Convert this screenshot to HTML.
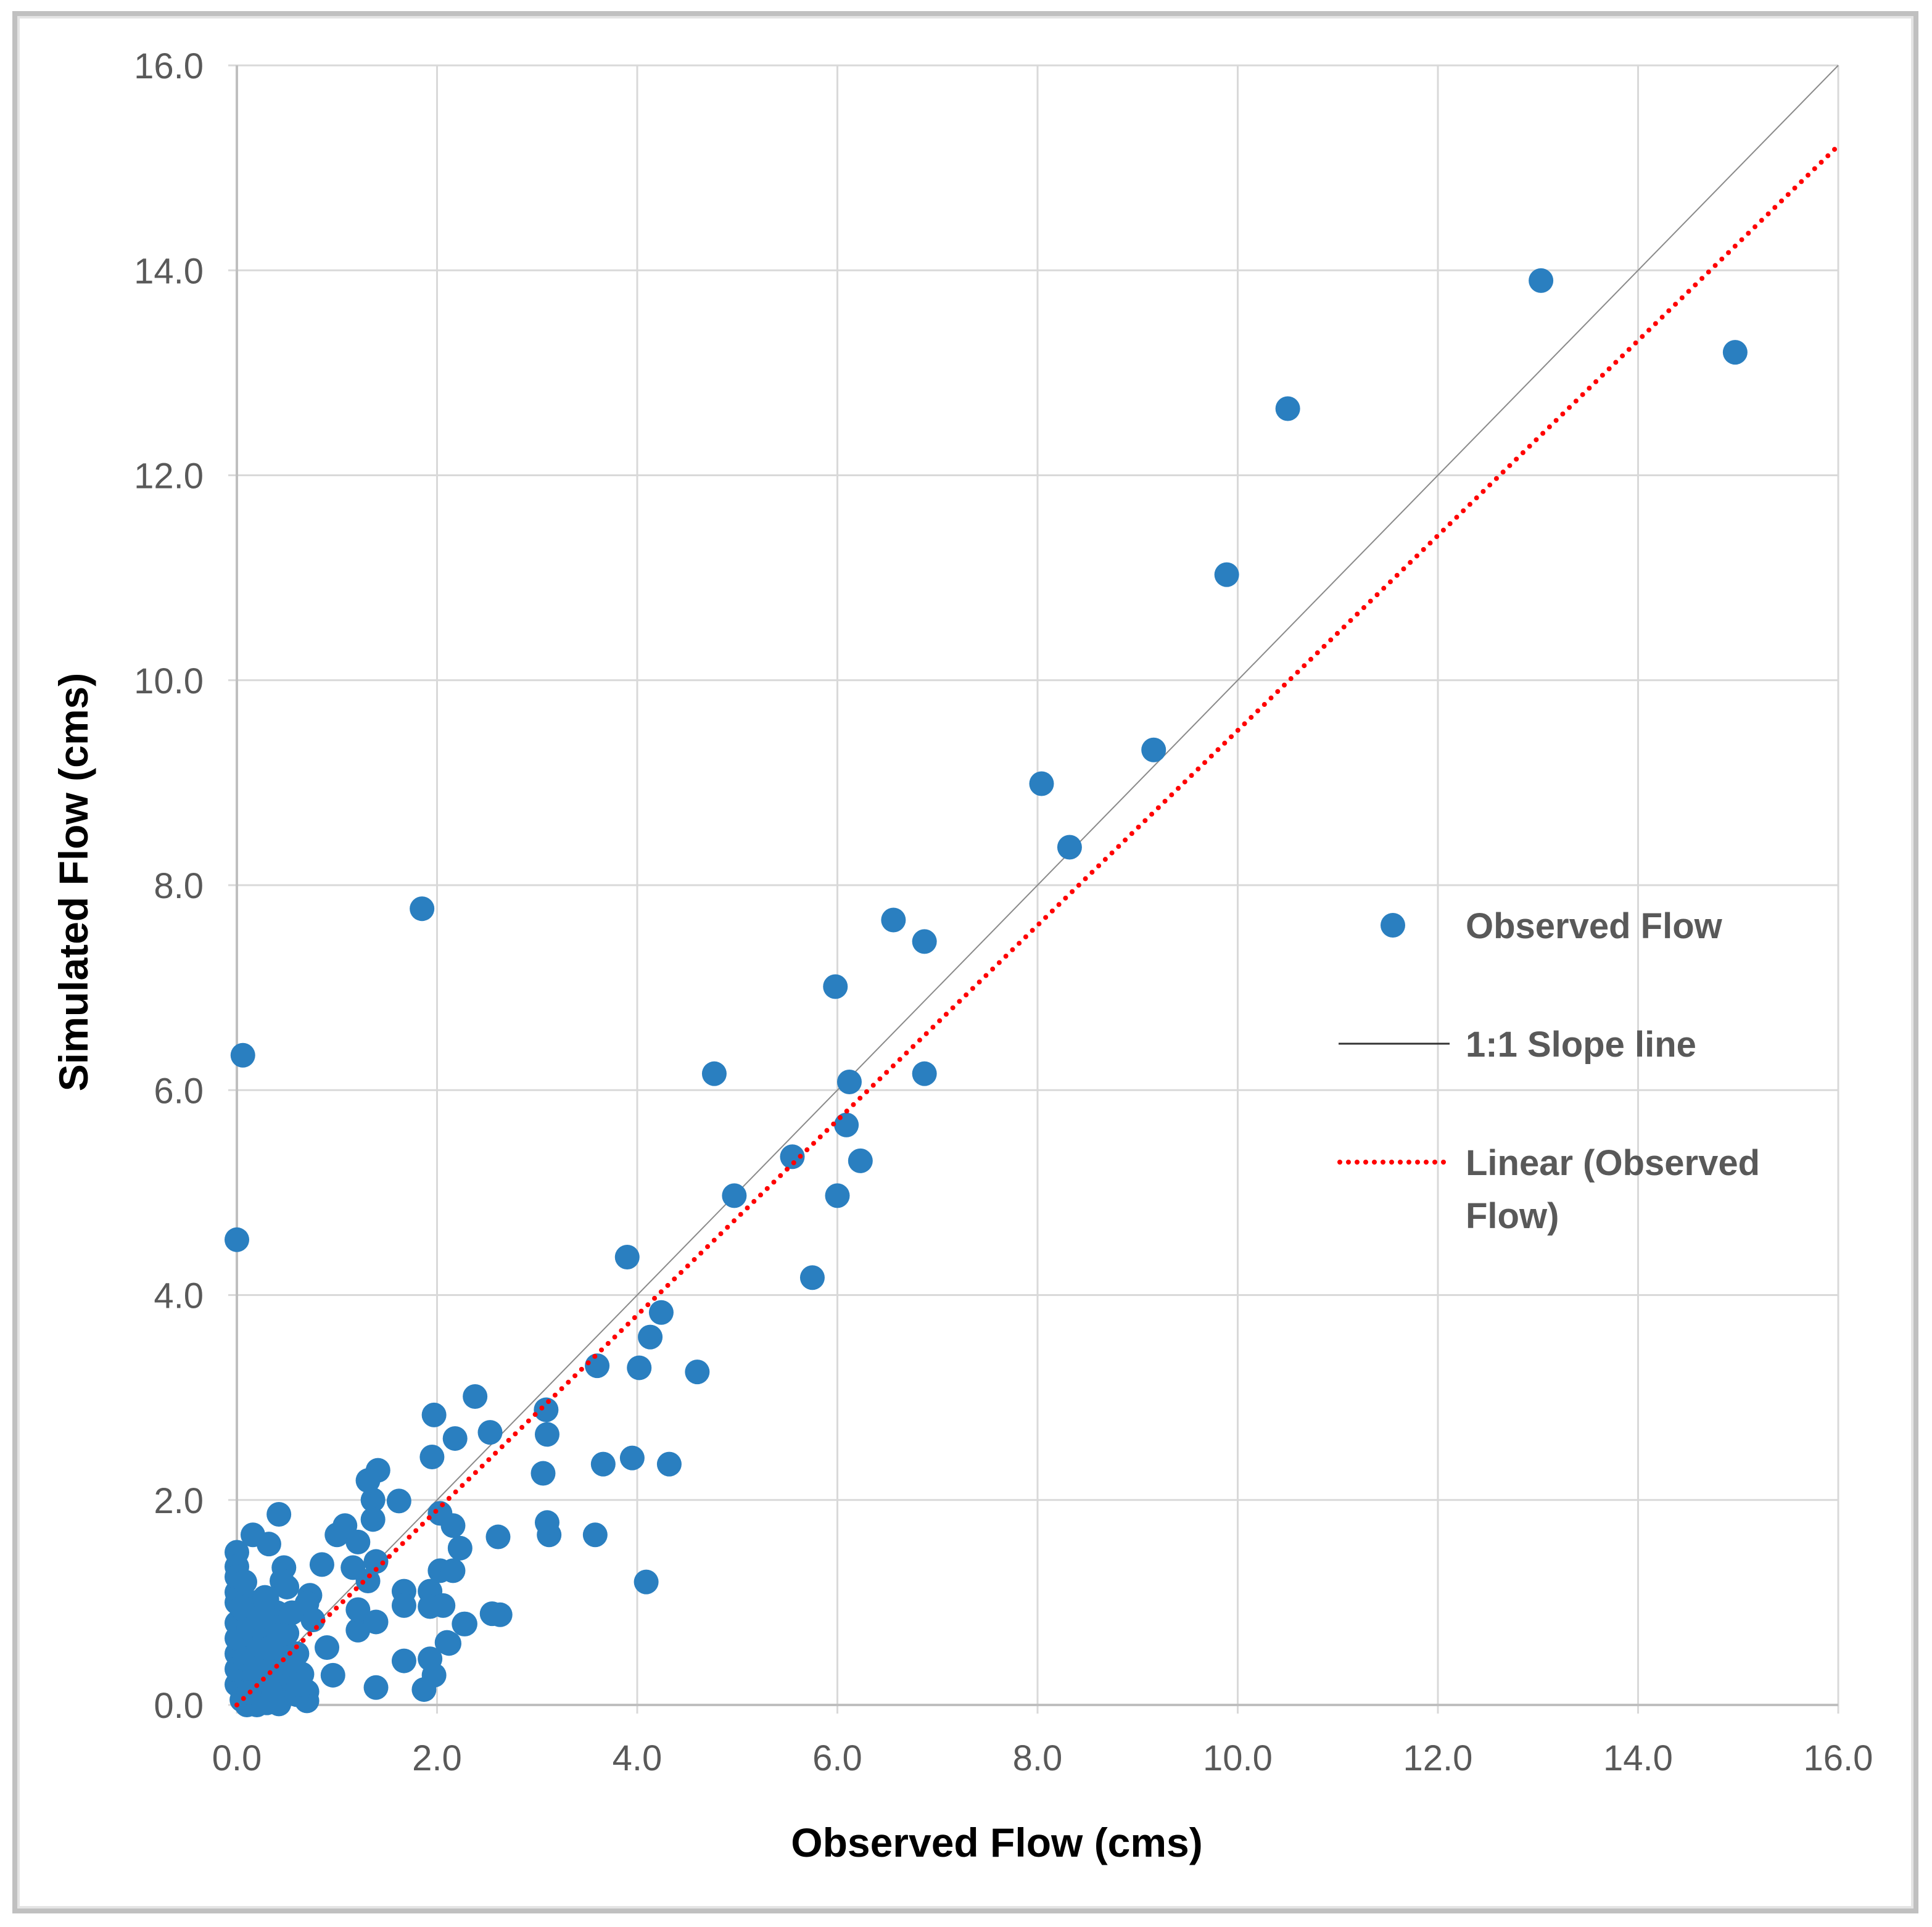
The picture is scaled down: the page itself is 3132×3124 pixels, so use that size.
<!DOCTYPE html>
<html><head><meta charset="utf-8"><style>
html,body{margin:0;padding:0;background:#fff;}
svg{display:block;font-family:"Liberation Sans",sans-serif;}
</style></head><body>
<svg id="chart" width="3132" height="3124" viewBox="0 0 3132 3124" xmlns="http://www.w3.org/2000/svg">
<rect x="24" y="22" width="3082" height="3076" fill="#fff" stroke="#c0c0c0" stroke-width="8"/>
<rect x="30" y="28" width="3070" height="3064" fill="none" stroke="#e4e4e4" stroke-width="4"/>
<g id="grid"></g>
<g id="lines"></g>
<g id="points"></g>
<g id="labels"></g>
<text x="1616" y="3010" text-anchor="middle" font-size="66" font-weight="bold" fill="#000">Observed Flow (cms)</text>
<text transform="translate(142,1430) rotate(-90)" text-anchor="middle" font-size="66" font-weight="bold" fill="#000">Simulated Flow (cms)</text>
<g>
<circle cx="2258" cy="1500" r="20" fill="#2a7fc0"/>
<text x="2376" y="1521" font-size="58" font-weight="bold" fill="#595959">Observed Flow</text>
<line x1="2170" y1="1692" x2="2350" y2="1692" stroke="#333" stroke-width="3"/>
<text x="2376" y="1713" font-size="58" font-weight="bold" fill="#595959">1:1 Slope line</text>
<line x1="2172" y1="1884" x2="2350" y2="1884" stroke="#ff0000" stroke-width="8" stroke-linecap="round" stroke-dasharray="0 14"/>
<text x="2376" y="1905" font-size="58" font-weight="bold" fill="#595959">Linear (Observed</text>
<text x="2376" y="1991" font-size="58" font-weight="bold" fill="#595959">Flow)</text>
</g>
</svg>
<script>
const ticks = [0,2,4,6,8,10,12,14,16];
const tickLabels = ["0.0","2.0","4.0","6.0","8.0","10.0","12.0","14.0","16.0"];
const obsX = [13.03,14.97,10.5,9.89,9.16,8.04,8.32,6.56,6.87,5.98,6.87,4.77,6.12,6.09,5.55,6.23,4.97,6.0,5.75,3.9,4.24,4.13,3.6,4.02,4.6,3.09,2.38,1.97,3.1,2.53,2.18,1.95,3.66,3.95,4.32,3.06,1.85,0.06,0.0,4.09,3.58,3.12,3.1,2.61,2.63,2.55,2.27,2.12,
1.41,1.31,1.36,1.62,1.36,0.42,0.16,0.32,0.0,0.0,0.47,0.45,1.08,1.0,1.21,0.85,1.16,1.39,0.73,1.31,1.67,1.67,1.93,2.03,2.16,2.16,2.03,2.23,1.93,2.06,2.28,2.1,1.93,1.67,1.97,1.87,1.39,0.96,0.9,1.21,1.39,1.21,0.7,0.76,0.7,0.7,0.42,0.3,
0.0,0.0,0.0,0.0,0.0,0.05,0.1,0.1,0.15,0.15,0.2,0.2,0.25,0.25,0.3,0.3,0.35,0.35,0.4,0.4,0.45,0.45,0.5,0.5,0.55,0.6,0.65,0.6,0.05,0.1,0.2,0.3,0.0,0.1,0.2,0.3,0.4,0.15,0.25,0.5,0.55,0.0,
0.08,0.12,0.18,0.22,0.28,0.33,0.38,0.05,0.12,0.22,0.32,0.42,0.52,0.62,0.0,0.08,0.18,0.28];
const obsY = [13.9,13.2,12.65,11.03,9.32,8.99,8.37,7.66,7.45,7.01,6.16,6.16,6.08,5.66,5.35,5.31,4.97,4.97,4.17,4.37,3.83,3.59,3.31,3.29,3.25,2.88,3.01,2.83,2.64,2.66,2.6,2.42,2.35,2.41,2.35,2.26,7.77,6.34,4.54,1.2,1.66,1.66,1.78,1.64,0.88,0.89,0.79,0.6,
2.29,2.19,2.0,1.99,1.81,1.86,1.66,1.57,1.49,1.35,1.34,1.21,1.75,1.66,1.59,1.37,1.34,1.4,1.07,1.21,1.11,0.97,1.11,1.31,1.31,1.75,1.87,1.53,0.96,0.97,0.79,0.61,0.45,0.43,0.29,0.15,0.17,0.29,0.56,0.73,0.81,0.93,0.99,0.83,0.13,0.04,0.01,1.03,
0.2,0.5,0.8,1.0,1.1,0.3,0.6,0.9,0.1,0.4,0.7,1.0,0.2,0.5,0.8,0.35,0.05,0.6,0.3,0.9,0.5,0.15,0.7,0.35,0.2,0.5,0.3,0.1,0.05,0.0,0.0,0.02,0.65,0.25,0.45,0.6,0.75,0.85,0.95,1.15,0.9,0.35,
0.45,0.75,0.25,0.55,0.65,0.15,0.45,0.95,0.12,0.85,0.55,0.68,0.4,0.2,1.25,1.2,0.35,1.05];
const trendSlope = [0.951];
const trendIntercept = [0.0];

const NS="http://www.w3.org/2000/svg";
const X0=384,X1=2980,Y0=2764,Y1=106,DMAX=16;
function sx(v){return X0+v*(X1-X0)/DMAX;}
function sy(v){return Y0-v*(Y0-Y1)/DMAX;}
function mk(tag,attrs,parent){const e=document.createElementNS(NS,tag);for(const k in attrs)e.setAttribute(k,attrs[k]);parent.appendChild(e);return e;}
const grid=document.getElementById('grid'),lines=document.getElementById('lines'),pts=document.getElementById('points'),lab=document.getElementById('labels');
ticks.forEach((t,i)=>{
  const gx=mk('line',{x1:sx(t),y1:Y1,x2:sx(t),y2:Y0+14,stroke:'#d9d9d9','stroke-width':3},grid);
  
  
  const gy=mk('line',{x1:X0-14,y1:sy(t),x2:X1,y2:sy(t),stroke:'#d9d9d9','stroke-width':3},grid);
  
  
  const tx=mk('text',{x:sx(t),y:2870,'text-anchor':'middle','font-size':58,fill:'#595959'},lab);
  tx.textContent=tickLabels[i];
  
  
  const ty=mk('text',{x:330,y:sy(t)+21,'text-anchor':'end','font-size':58,fill:'#595959'},lab);
  ty.textContent=tickLabels[i];
  
  
});
const ax=mk('line',{x1:X0,y1:Y0,x2:X1,y2:Y0,stroke:'#bfbfbf','stroke-width':4},grid);


const ay=mk('line',{x1:X0,y1:Y1,x2:X0,y2:Y0,stroke:'#bfbfbf','stroke-width':4},grid);


const one=mk('line',{x1:sx(0),y1:sy(0),x2:sx(16),y2:sy(16),stroke:'#8a8a8a','stroke-width':2},lines);


obsX.forEach((v,i)=>{
  const c=mk('circle',{cx:sx(v),cy:sy(obsY[i]),r:20,fill:'#2a7fc0'},pts);
  
  
});
const tl=mk('line',{x1:sx(0),y1:sy(trendIntercept[0]),x2:sx(16),y2:sy(trendIntercept[0]+trendSlope[0]*16),stroke:'#ff0000','stroke-width':8,'stroke-linecap':'round','stroke-dasharray':'0 15'},pts);


</script>
</body></html>
